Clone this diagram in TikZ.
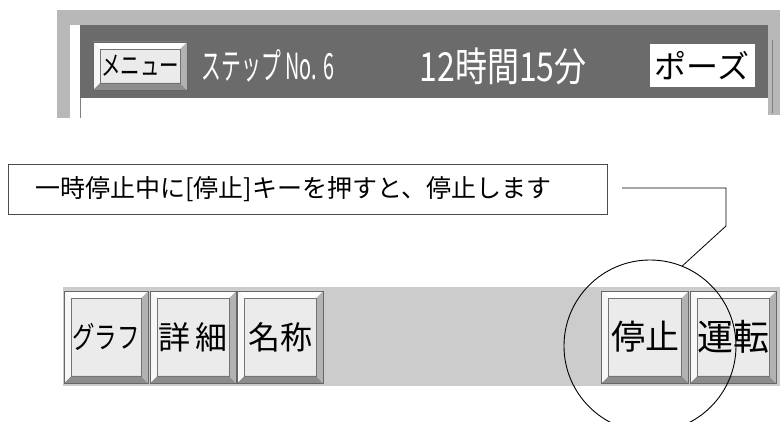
\documentclass[tikz,border=0pt]{standalone}
\usepackage{fontspec}
\newfontfamily\jp{Noto Sans CJK JP}
\usetikzlibrary{calc}
\tikzset{
  keybtn/.style={draw=black!60, fill=black!8, inner sep=0pt, minimum width=#1,
    minimum height=92pt, font=\jp\fontsize{32}{32}\selectfont,
    path picture={
      \path (path picture bounding box.south west) coordinate (sw)
            (path picture bounding box.south east) coordinate (se)
            (path picture bounding box.north east) coordinate (ne)
            (path picture bounding box.north west) coordinate (nw);
      \fill[black!45] (sw) -- (se) -- ($(se)+(-7pt,7pt)$) -- ($(sw)+(7pt,7pt)$) -- cycle;
      \fill[black!30] (se) -- (ne) -- ($(ne)+(-7pt,-7pt)$) -- ($(se)+(-7pt,7pt)$) -- cycle;
      \fill[white] (nw) -- (ne) -- ($(ne)+(-7pt,-7pt)$) -- ($(nw)+(7pt,-7pt)$) -- cycle;
      \fill[black!3] (nw) -- (sw) -- ($(sw)+(7pt,7pt)$) -- ($(nw)+(7pt,-7pt)$) -- cycle;
      \draw[black!55] ($(sw)+(7pt,7pt)$) rectangle ($(ne)+(-7pt,-7pt)$);
    }},
  bartext/.style={text=white, inner sep=0pt},
}
\begin{document}
\begin{tikzpicture}[x=1pt, y=-1pt]
    \useasboundingbox[fill=white] (0,0) rectangle (780,422);
    % status bar
    \fill[black!28] (57,10) rectangle (780,25);
    \fill[black!28] (57,10) rectangle (70,118);
    \fill[black!28] (768,25) rectangle (780,115);
    \fill[black!58] (80,25) rectangle (768,98);
    \draw[black!50] (80,98) -- (80,118);
    \draw[black!50] (772,40) -- (772,113);
    \node[keybtn=94pt, minimum height=48pt, font=\jp\fontsize{27}{27}\selectfont] (menu) at (140,66) {\scalebox{0.72}[1]{メニュー}};
    \node[bartext, font=\jp\fontsize{36}{36}\selectfont] (step) at (268,66) {\scalebox{0.55}[1]{ステップ No. 6}};
    \node[bartext, font=\jp\fontsize{40}{40}\selectfont] (timer) at (503,66) {\scalebox{0.8}[1]{12時間15分}};
    \node[fill=white, inner sep=0pt, minimum width=105pt, minimum height=43pt, font=\jp\fontsize{32}{32}\selectfont] (pause) at (702,66) {ポーズ};
    % hint box
    \node[draw=black!70, line width=0.6pt, anchor=west, inner xsep=27pt, text width=545pt, minimum height=50pt, align=left, font=\jp\fontsize{25}{25}\selectfont] (hint) at (8,189) {一時停止中に[停止]キーを押すと、停止します};
    % key bar
    \fill[black!20] (63,287) rectangle (780,386);
    \node[keybtn=84pt, font=\jp\fontsize{30}{30}\selectfont] (graph) at (106,337) {\scalebox{0.75}[1]{グラフ}};
    \node[keybtn=86pt] (detail) at (193,337) {詳\,細};
    \node[keybtn=86pt] (label) at (280,337) {名称};
    \node[keybtn=87pt, font=\jp\fontsize{34}{34}\selectfont] (stop) at (645,337) {停止};
    \node[keybtn=86pt, font=\jp\fontsize{36}{36}\selectfont] (run) at (733,337) {運転};
    % ring and leader
    \node[circle, draw, line width=0.9pt, minimum size=172pt, inner sep=0pt] (ring) at (650,346) {};
    \coordinate (leadA) at (622,188);
    \coordinate (leadB) at (726,188);
    \coordinate (leadC) at (726,226);
    \draw[line width=0.8pt] (leadA) -- (leadB) -- (leadC) -- (ring.68);
  \end{tikzpicture}
\end{document}
